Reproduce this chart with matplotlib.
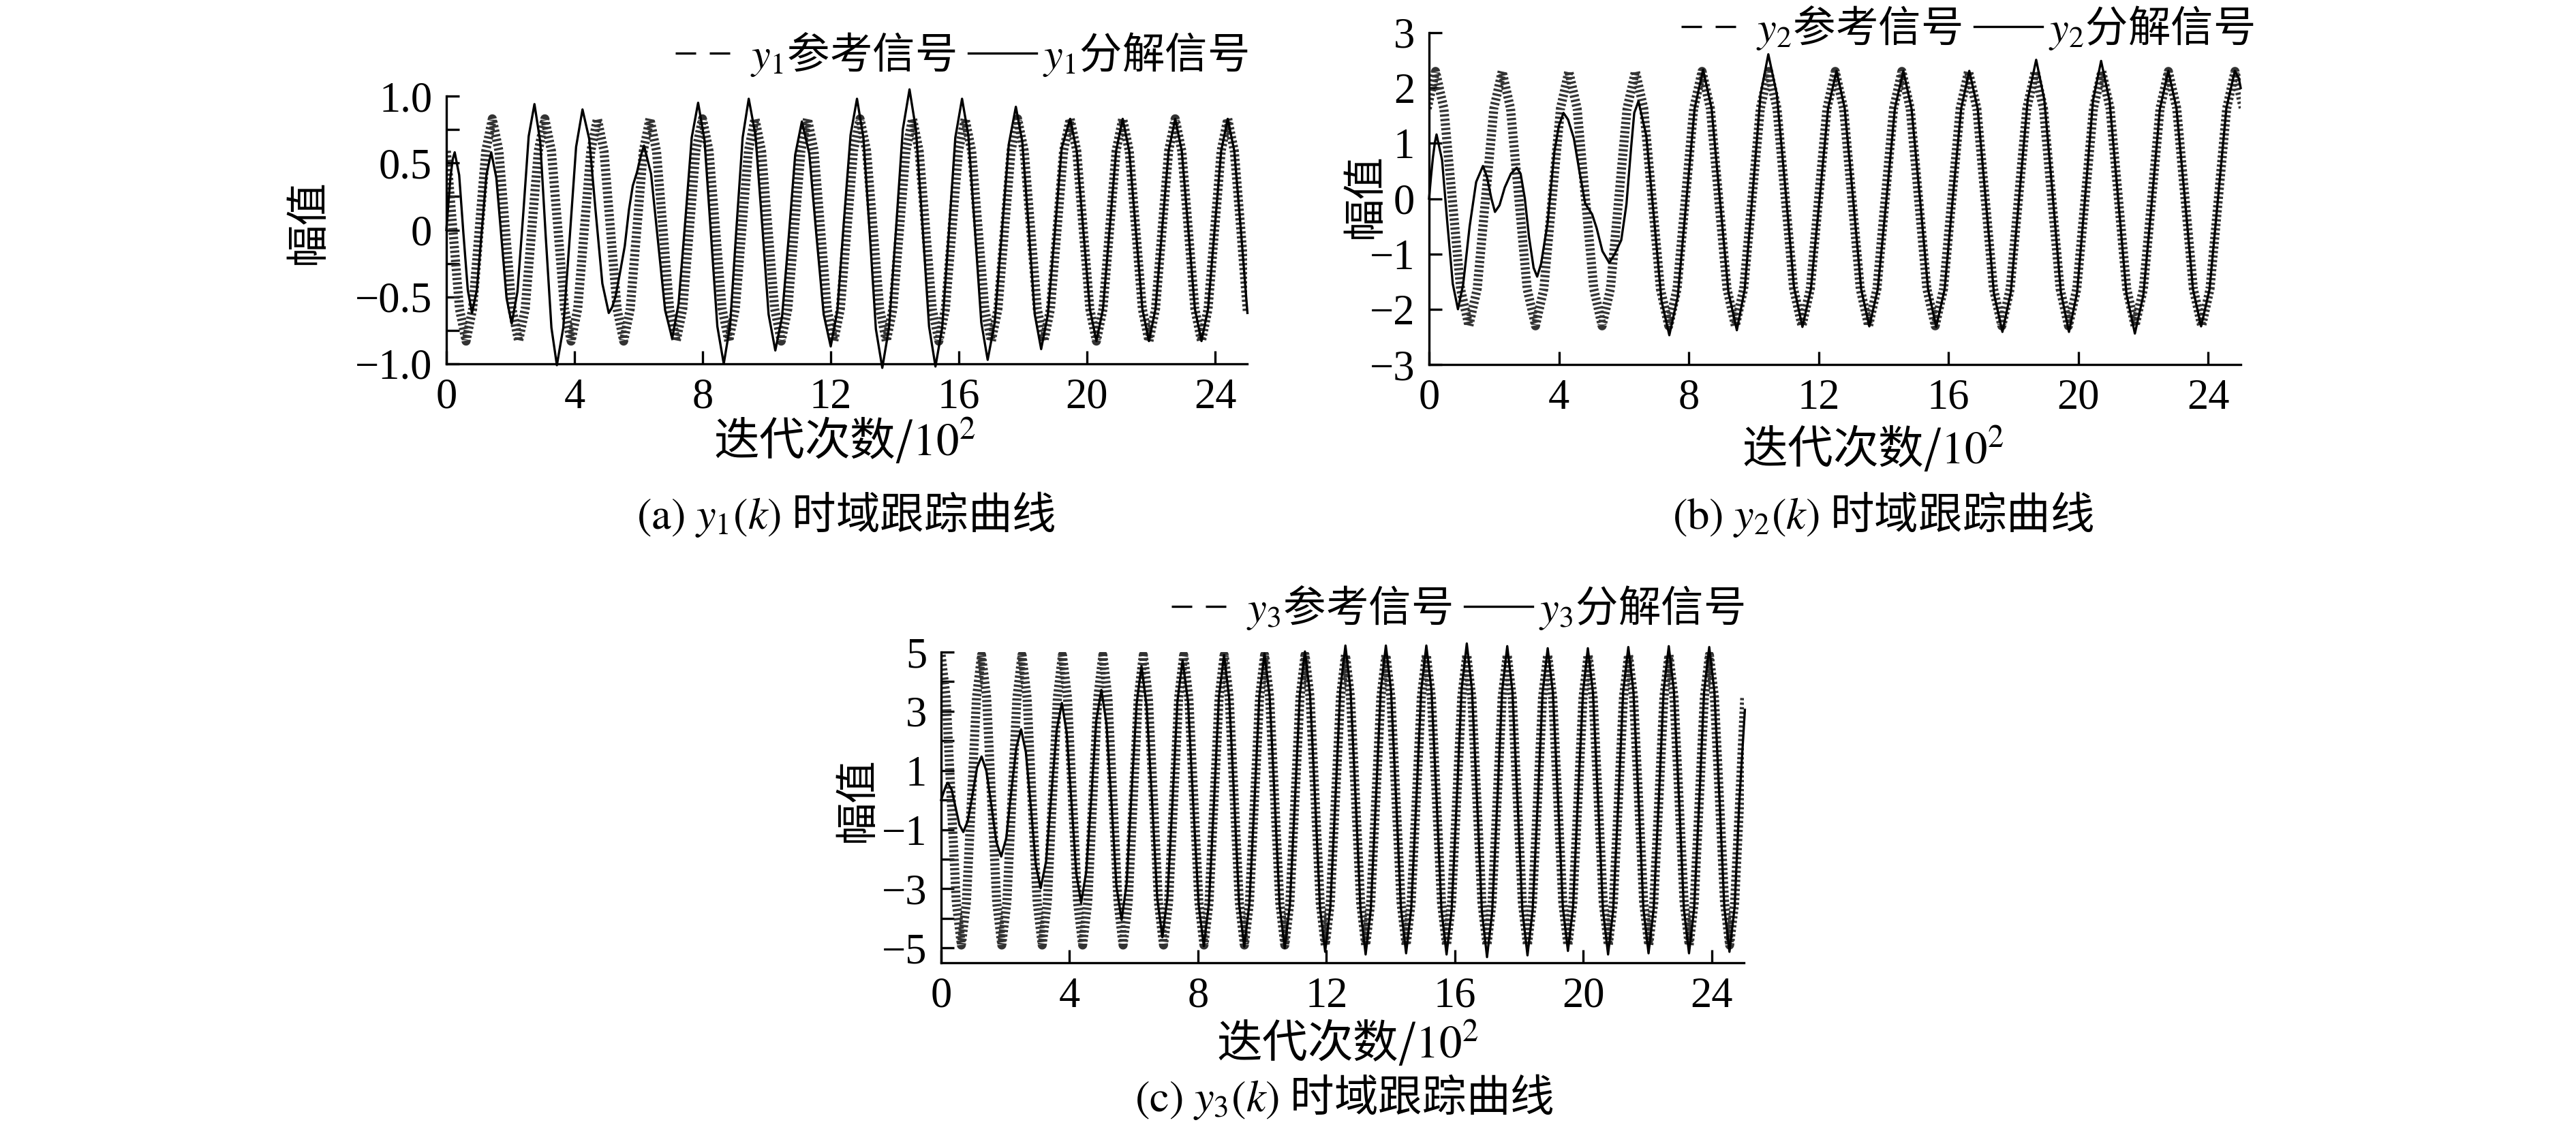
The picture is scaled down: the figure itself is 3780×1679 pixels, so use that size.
import numpy as np
import matplotlib
matplotlib.use('Agg')
import matplotlib.pyplot as plt
from matplotlib.lines import Line2D

plt.rcParams['font.family'] = ['Liberation Serif', 'Noto Sans CJK SC']
plt.rcParams['mathtext.fontset'] = 'stix'
plt.rcParams['axes.unicode_minus'] = True

W, H, DPI = 3780, 1679, 300
CJK = 'Noto Sans CJK SC'

# ---------------- data (x axis: iterations / 10^2) ----------------
x_ticks = [0, 4, 8, 12, 16, 20, 24]
x_ticklabels = ['0', '4', '8', '12', '16', '20', '24']

# y1 reference signal, sampled every 0.205
y1_step = 0.205
y1_ref = [
    0.59, 0.0, -0.59, -0.83, -0.59, 0.0, 0.59, 0.83,
    0.59, 0.0, -0.59, -0.83, -0.59, 0.0, 0.59, 0.83,
    0.59, 0.0, -0.59, -0.83, -0.59, 0.0, 0.59, 0.83,
    0.59, 0.0, -0.59, -0.83, -0.59, 0.0, 0.59, 0.83,
    0.59, 0.0, -0.59, -0.83, -0.59, 0.0, 0.59, 0.83,
    0.59, 0.0, -0.59, -0.83, -0.59, 0.0, 0.59, 0.83,
    0.59, 0.0, -0.59, -0.83, -0.59, 0.0, 0.59, 0.83,
    0.59, 0.0, -0.59, -0.83, -0.59, 0.0, 0.59, 0.83,
    0.59, 0.0, -0.59, -0.83, -0.59, 0.0, 0.59, 0.83,
    0.59, 0.0, -0.59, -0.83, -0.59, 0.0, 0.59, 0.83,
    0.59, 0.0, -0.59, -0.83, -0.59, 0.0, 0.59, 0.83,
    0.59, 0.0, -0.59, -0.83, -0.59, 0.0, 0.59, 0.83,
    0.59, 0.0, -0.59, -0.83, -0.59, 0.0, 0.59, 0.83,
    0.59, 0.0, -0.59, -0.83, -0.59, 0.0, 0.59, 0.83,
    0.59, 0.0, -0.59, -0.83, -0.59, 0.0, 0.59, 0.83,
    0.59, 0.0, -0.62,
]
# y1 decomposed signal (time, value) up to ~19.2, then it sits on the reference
y1_dec_pts = [
    (0.00, 0.00), (0.07, 0.22), (0.13, 0.40), (0.20, 0.53), (0.26, 0.58),
    (0.40, 0.41), (0.53, -0.02), (0.67, -0.45), (0.80, -0.62),
    (0.95, -0.45), (1.10, -0.02), (1.25, 0.41), (1.40, 0.58),
    (1.56, 0.39), (1.72, -0.06), (1.88, -0.51), (2.04, -0.70),
    (2.22, -0.46), (2.40, 0.12), (2.57, 0.70), (2.75, 0.94),
    (2.93, 0.66), (3.10, -0.04), (3.28, -0.73), (3.45, -1.01),
    (3.65, -0.73), (3.85, -0.06), (4.05, 0.62), (4.25, 0.90),
    (4.46, 0.68), (4.66, 0.14), (4.87, -0.40), (5.07, -0.62),
    (5.17, -0.58), (5.28, -0.50), (5.42, -0.32), (5.57, -0.12), (5.70, 0.15),
    (5.82, 0.33), (5.95, 0.43), (6.08, 0.56), (6.17, 0.63),
    (6.39, 0.42), (6.61, -0.09), (6.83, -0.60), (7.05, -0.81),
    (7.25, -0.55), (7.46, 0.07), (7.66, 0.69), (7.86, 0.95),
    (8.06, 0.67), (8.26, -0.03), (8.46, -0.72), (8.66, -1.00),
    (8.86, -0.71), (9.05, -0.01), (9.25, 0.69), (9.44, 0.98),
    (9.65, 0.71), (9.86, 0.04), (10.06, -0.63), (10.27, -0.90),
    (10.48, -0.65), (10.69, -0.05), (10.89, 0.56), (11.10, 0.81),
    (11.33, 0.57), (11.55, -0.03), (11.78, -0.63), (12.00, -0.87),
    (12.21, -0.60), (12.41, 0.06), (12.62, 0.71), (12.82, 0.98),
    (13.02, 0.69), (13.22, -0.03), (13.41, -0.74), (13.61, -1.03),
    (13.82, -0.73), (14.04, 0.01), (14.25, 0.75), (14.46, 1.05),
    (14.66, 0.75), (14.87, 0.02), (15.07, -0.72), (15.27, -1.02),
    (15.48, -0.73), (15.69, -0.02), (15.89, 0.69), (16.10, 0.98),
    (16.30, 0.70), (16.50, 0.01), (16.70, -0.69), (16.90, -0.97),
    (17.12, -0.69), (17.34, -0.03), (17.56, 0.64), (17.78, 0.92),
    (17.98, 0.66), (18.18, 0.02), (18.37, -0.63), (18.57, -0.89),
    (18.78, -0.63), (19.00, -0.01), (19.21, 0.61),
]
y1_join = 95  # reference index where the decomposed curve has converged

# y2 reference signal, sampled every 0.2565 starting at -0.0565
y2_t0, y2_step = -0.0565, 0.2565
y2_ref = [
    1.63, 2.30, 1.63, 0.0, -1.63, -2.30, -1.63, 0.0,
    1.63, 2.30, 1.63, 0.0, -1.63, -2.30, -1.63, 0.0,
    1.63, 2.30, 1.63, 0.0, -1.63, -2.30, -1.63, 0.0,
    1.63, 2.30, 1.63, 0.0, -1.63, -2.30, -1.63, 0.0,
    1.63, 2.30, 1.63, 0.0, -1.63, -2.30, -1.63, 0.0,
    1.63, 2.30, 1.63, 0.0, -1.63, -2.30, -1.63, 0.0,
    1.63, 2.30, 1.63, 0.0, -1.63, -2.30, -1.63, 0.0,
    1.63, 2.30, 1.63, 0.0, -1.63, -2.30, -1.63, 0.0,
    1.63, 2.30, 1.63, 0.0, -1.63, -2.30, -1.63, 0.0,
    1.63, 2.30, 1.63, 0.0, -1.63, -2.30, -1.63, 0.0,
    1.63, 2.30, 1.63, 0.0, -1.63, -2.30, -1.63, 0.0,
    1.63, 2.30, 1.63, 0.0, -1.63, -2.30, -1.63, 0.0,
    1.63, 2.30, 1.63,
]
y2_dec_pts = [
    (0.00, 0.00), (0.06, 0.40), (0.12, 0.75), (0.18, 1.02), (0.23, 1.16),
    (0.40, 0.70), (0.56, -0.42), (0.73, -1.54), (0.89, -2.00),
    (1.05, -1.55), (1.25, -0.50), (1.45, 0.30), (1.66, 0.59),
    (1.78, 0.40), (1.92, 0.00), (2.03, -0.24),
    (2.17, -0.12), (2.33, 0.20), (2.52, 0.45), (2.70, 0.56),
    (2.82, 0.45), (2.95, 0.00), (3.08, -0.70), (3.22, -1.25), (3.33, -1.41),
    (3.45, -1.18), (3.65, -0.45), (3.86, 0.85), (4.00, 1.32), (4.14, 1.55),
    (4.28, 1.43), (4.46, 1.09), (4.63, 0.50), (4.81, -0.09), (5.02, -0.28),
    (5.16, -0.53), (5.34, -0.95), (5.55, -1.16),
    (5.72, -1.00), (5.92, -0.75), (6.08, -0.10), (6.22, 0.90), (6.32, 1.55), (6.45, 1.76),
    (6.69, 1.14), (6.93, -0.36), (7.16, -1.85), (7.40, -2.47),
    (7.66, -1.77), (7.92, -0.07), (8.18, 1.63), (8.44, 2.33),
    (8.70, 1.64), (8.96, -0.03), (9.22, -1.69), (9.48, -2.38),
    (9.72, -1.65), (9.97, 0.12), (10.21, 1.88), (10.45, 2.61),
    (10.71, 1.89), (10.98, 0.15), (11.24, -1.60), (11.50, -2.32),
    (11.76, -1.64), (12.03, 0.00), (12.29, 1.63), (12.55, 2.31),
    (12.80, 1.64), (13.06, 0.00), (13.31, -1.64), (13.56, -2.31),
    (13.82, -1.64), (14.09, 0.00), (14.35, 1.64), (14.61, 2.31),
    (14.86, 1.63), (15.12, 0.00), (15.37, -1.64), (15.62, -2.32),
    (15.88, -1.64), (16.13, 0.00), (16.39, 1.63), (16.64, 2.31),
    (16.90, 1.62), (17.15, -0.05), (17.40, -1.72), (17.66, -2.41),
    (17.92, -1.69), (18.18, 0.05), (18.44, 1.79), (18.70, 2.51),
    (18.95, 1.79), (19.21, 0.05), (19.46, -1.69), (19.71, -2.41),
    (19.96, -1.70), (20.21, 0.04), (20.45, 1.77), (20.70, 2.49),
    (20.96, 1.77), (21.22, 0.03), (21.48, -1.72), (21.74, -2.44),
    (22.00, -1.75), (22.26, -0.07), (22.51, 1.62), (22.77, 2.31),
    (23.02, 1.64), (23.28, 0.00), (23.53, -1.64), (23.78, -2.31),
    (24.04, -1.64), (24.30, 0.00), (24.56, 1.64), (24.82, 2.31),
    (24.94, 2.18), (25.00, 2.00),
]

# y3 reference signal, sampled every 0.1574
y3_step = 0.1574
y3_ref = [
    4.90, 3.46, 0.0, -3.46, -4.90, -3.46, 0.0, 3.46,
    4.90, 3.46, 0.0, -3.46, -4.90, -3.46, 0.0, 3.46,
    4.90, 3.46, 0.0, -3.46, -4.90, -3.46, 0.0, 3.46,
    4.90, 3.46, 0.0, -3.46, -4.90, -3.46, 0.0, 3.46,
    4.90, 3.46, 0.0, -3.46, -4.90, -3.46, 0.0, 3.46,
    4.90, 3.46, 0.0, -3.46, -4.90, -3.46, 0.0, 3.46,
    4.90, 3.46, 0.0, -3.46, -4.90, -3.46, 0.0, 3.46,
    4.90, 3.46, 0.0, -3.46, -4.90, -3.46, 0.0, 3.46,
    4.90, 3.46, 0.0, -3.46, -4.90, -3.46, 0.0, 3.46,
    4.90, 3.46, 0.0, -3.46, -4.90, -3.46, 0.0, 3.46,
    4.90, 3.46, 0.0, -3.46, -4.90, -3.46, 0.0, 3.46,
    4.90, 3.46, 0.0, -3.46, -4.90, -3.46, 0.0, 3.46,
    4.90, 3.46, 0.0, -3.46, -4.90, -3.46, 0.0, 3.46,
    4.90, 3.46, 0.0, -3.46, -4.90, -3.46, 0.0, 3.46,
    4.90, 3.46, 0.0, -3.46, -4.90, -3.46, 0.0, 3.46,
    4.90, 3.46, 0.0, -3.46, -4.90, -3.46, 0.0, 3.46,
    4.90, 3.46, 0.0, -3.46, -4.90, -3.46, 0.0, 3.46,
    4.90, 3.46, 0.0, -3.46, -4.90, -3.46, 0.0, 3.46,
    4.90, 3.46, 0.0, -3.46, -4.90, -3.46, 0.0, 3.46,
    4.90, 3.46, 0.0, -3.46, -4.90, -3.46, 0.0, 3.46,
]
y3_dec_pts = [
    (0.00, 0.00), (0.05, 0.17), (0.10, 0.33), (0.16, 0.50), (0.21, 0.58),
    (0.33, 0.34), (0.45, -0.25), (0.57, -0.84), (0.69, -1.08),
    (0.83, -0.71), (0.98, 0.20), (1.12, 1.10), (1.26, 1.47),
    (1.41, 0.98), (1.57, -0.22), (1.72, -1.42), (1.87, -1.91),
    (2.03, -1.28), (2.18, 0.24), (2.34, 1.76), (2.49, 2.39),
    (2.64, 1.61), (2.80, -0.30), (2.95, -2.20), (3.10, -2.98),
    (3.27, -2.07), (3.43, 0.15), (3.60, 2.37), (3.76, 3.28),
    (3.91, 2.29), (4.06, -0.10), (4.21, -2.49), (4.36, -3.47),
    (4.52, -2.42), (4.68, 0.13), (4.83, 2.67), (4.99, 3.72),
    (5.15, 2.59), (5.31, -0.17), (5.46, -2.92), (5.62, -4.05),
    (5.78, -2.80), (5.93, 0.24), (6.09, 3.27), (6.24, 4.52),
    (6.40, 3.18), (6.57, -0.06), (6.73, -3.30), (6.89, -4.64),
    (7.05, -3.27), (7.21, 0.04), (7.36, 3.35), (7.52, 4.72),
    (7.69, 3.31), (7.85, -0.11), (8.02, -3.53), (8.18, -4.94),
    (8.34, -3.50), (8.50, -0.02), (8.65, 3.46), (8.81, 4.90),
    (8.97, 3.46), (9.13, -0.03), (9.28, -3.52), (9.44, -4.96),
    (9.60, -3.51), (9.76, -0.01), (9.91, 3.50), (10.07, 4.95),
    (10.23, 3.50), (10.39, -0.03), (10.54, -3.55), (10.70, -5.00),
    (10.86, -3.54), (11.02, 0.01), (11.17, 3.56), (11.33, 5.02),
    (11.49, 3.54), (11.65, -0.06), (11.80, -3.65), (11.96, -5.13),
    (12.12, -3.62), (12.28, 0.05), (12.43, 3.71), (12.59, 5.22),
    (12.75, 3.70), (12.91, 0.00), (13.06, -3.70), (13.22, -5.22),
    (13.38, -3.70), (13.54, 0.00), (13.69, 3.70), (13.85, 5.22),
    (14.01, 3.70), (14.17, 0.02), (14.32, -3.66), (14.48, -5.18),
    (14.64, -3.66), (14.80, 0.02), (14.95, 3.70), (15.11, 5.22),
    (15.27, 3.70), (15.43, 0.00), (15.58, -3.70), (15.74, -5.22),
    (15.90, -3.69), (16.06, 0.04), (16.21, 3.76), (16.37, 5.29),
    (16.53, 3.74), (16.69, -0.01), (16.84, -3.76), (17.00, -5.31),
    (17.16, -3.78), (17.32, -0.05), (17.47, 3.67), (17.63, 5.20),
    (17.79, 3.67), (17.95, -0.03), (18.10, -3.72), (18.26, -5.25),
    (18.42, -3.73), (18.58, -0.06), (18.73, 3.62), (18.89, 5.13),
    (19.05, 3.64), (19.21, 0.02), (19.36, -3.61), (19.52, -5.10),
    (19.68, -3.61), (19.83, 0.02), (19.99, 3.64), (20.14, 5.13),
    (20.30, 3.62), (20.46, -0.05), (20.61, -3.71), (20.77, -5.22),
    (20.93, -3.70), (21.09, -0.03), (21.24, 3.65), (21.40, 5.17),
    (21.56, 3.66), (21.72, -0.01), (21.87, -3.67), (22.03, -5.18),
    (22.19, -3.67), (22.35, 0.01), (22.50, 3.69), (22.66, 5.20),
    (22.82, 3.68), (22.98, 0.01), (23.13, -3.67), (23.29, -5.18),
    (23.45, -3.67), (23.61, -0.01), (23.76, 3.66), (23.92, 5.17),
    (24.08, 3.67), (24.24, 0.02), (24.39, -3.63), (24.55, -5.13),
    (24.71, -3.63), (24.86, 0.00), (25.03, 3.05),
]

y1_yticks = [1.0, 0.75, 0.5, 0.25, 0.0, -0.25, -0.5, -0.75, -1.0]
y1_yticklabels = ['1.0', '', '0.5', '', '0', '', '\u22120.5', '', '\u22121.0']
y2_yticks = [3, 2, 1, 0, -1, -2, -3]
y2_yticklabels = ['3', '2', '1', '0', '\u22121', '\u22122', '\u22123']
y3_yticks = [5, 4, 3, 2, 1, 0, -1, -2, -3, -4, -5]
y3_yticklabels = ['5', '', '3', '', '1', '', '\u22121', '', '\u22123', '', '\u22125']

# ---------------- build series ----------------
y1_ref_t = np.arange(len(y1_ref)) * y1_step
d1 = np.array(y1_dec_pts).T
y1_dec_t = np.concatenate([d1[0], y1_ref_t[y1_join:]])
y1_dec_v = np.concatenate([d1[1], np.array(y1_ref)[y1_join:]])

y2_ref_t = y2_t0 + np.arange(len(y2_ref)) * y2_step
y2_dec_t, y2_dec_v = np.array(y2_dec_pts).T

y3_ref_t = np.arange(len(y3_ref)) * y3_step
y3_dec_t, y3_dec_v = np.array(y3_dec_pts).T

# ---------------- figure ----------------
fig = plt.figure(figsize=(W / DPI, H / DPI), dpi=DPI, facecolor='white')


def fx(x):
    return x / W


def fy(y):
    return 1 - y / H


def panel(box, ref_t, ref_v, dec_t, dec_v, ylim, yticks, yticklabels):
    left, top, right, bottom = box
    ax = fig.add_axes([fx(left), fy(bottom), (right - left) / W, (bottom - top) / H])
    ax.plot(ref_t, ref_v, color='#333333', lw=3.2, dashes=(0.25, 0.25), zorder=2)
    ax.plot(dec_t, dec_v, color='black', lw=0.8, clip_on=False, zorder=3)
    ax.set_xlim(0, 25)
    ax.set_ylim(*ylim)
    ax.set_xticks(x_ticks)
    ax.set_xticklabels(x_ticklabels)
    ax.set_yticks(yticks)
    ax.set_yticklabels(yticklabels)
    for s in ['top', 'right']:
        ax.spines[s].set_visible(False)
    for s in ['left', 'bottom']:
        ax.spines[s].set_linewidth(0.8)
    ax.tick_params(direction='in', length=4.6, width=0.8, labelsize=15, pad=5)
    return ax


def legend(ax, n, right, y):
    h_ref = Line2D([], [], color='black', lw=0.8, dashes=(9, 6))
    h_dec = Line2D([], [], color='black', lw=0.8)
    ax.legend([h_ref, h_dec],
              [r'$y_%d$参考信号' % n, r'$y_%d$分解信号' % n],
              loc='center right', bbox_to_anchor=(fx(right), fy(y)),
              bbox_transform=fig.transFigure, ncol=2, frameon=False,
              prop={'family': CJK, 'size': 15}, handlelength=1.6,
              handletextpad=0.15, columnspacing=0.3, borderpad=0, borderaxespad=0)


def labels(tag, n, xl, cap, ylab):
    fig.text(fx(xl[0]), fy(xl[1]), r'迭代次数/$\mathrm{10}^{2}$', family=CJK,
             fontsize=16, ha='center', va='center')
    fig.text(fx(cap[0]), fy(cap[1]), r'$\mathrm{(%s)}\ y_%d(k)$ 时域跟踪曲线' % (tag, n),
             family=CJK, fontsize=15.5, ha='center', va='center')
    fig.text(fx(ylab[0]), fy(ylab[1]), '幅值', family=CJK, fontsize=15,
             rotation=90, ha='center', va='center')


ax1 = panel((655, 141, 1830, 534), y1_ref_t, y1_ref, y1_dec_t, y1_dec_v,
            (-1, 1), y1_yticks, y1_yticklabels)
legend(ax1, 1, 1832, 80)
labels('a', 1, (1239, 646), (1241, 755), (452, 325))

ax2 = panel((2097, 48, 3288, 535), y2_ref_t, y2_ref, y2_dec_t, y2_dec_v,
            (-3, 3), y2_yticks, y2_yticklabels)
legend(ax2, 2, 3308, 41)
labels('b', 2, (2748, 658), (2763, 755), (2003, 288))

ax3 = panel((1381, 957, 2559, 1413), y3_ref_t, y3_ref, y3_dec_t, y3_dec_v,
            (-5.5, 5), y3_yticks, y3_yticklabels)
legend(ax3, 3, 2560, 892)
labels('c', 3, (1977, 1531), (1972, 1610), (1258, 1174))

fig.savefig('out.png', dpi=DPI, facecolor='white')
